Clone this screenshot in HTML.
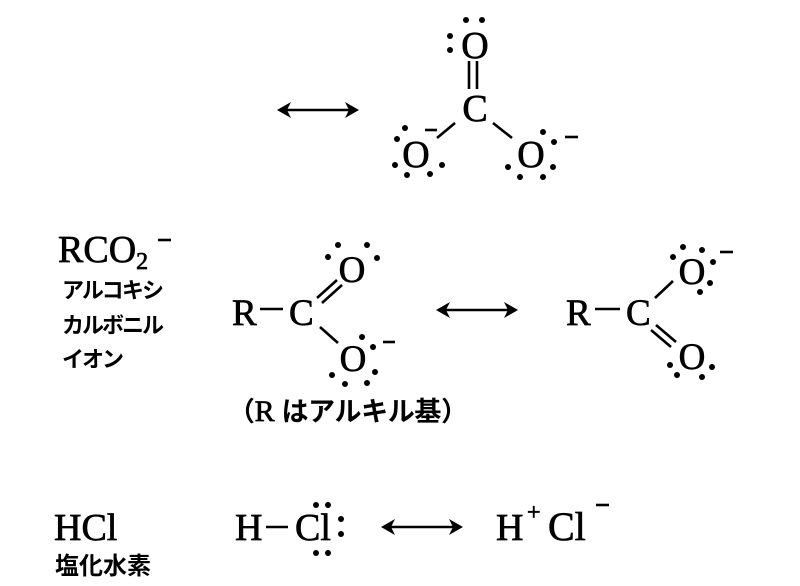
<!DOCTYPE html>
<html><head><meta charset="utf-8"><style>
html,body{margin:0;padding:0;background:#fff;}
svg{display:block}
.s{font-family:"Liberation Serif","Noto Serif CJK SC",serif;fill:#000;stroke:#000;stroke-width:0.7}
.j{font-family:"Liberation Sans","Noto Sans CJK JP",sans-serif;font-weight:bold;fill:#000}
line{stroke:#000;stroke-width:2.6}
</style></head><body>
<svg width="800" height="586" viewBox="0 0 800 586" xmlns="http://www.w3.org/2000/svg">
<defs>
<g id="arr"><line x1="6" y1="0" x2="76" y2="0" stroke-width="3"/><path d="M0 0 L14 -8 L10 0 L14 8Z M82 0 L68 -8 L72 0 L68 8Z" fill="#000"/></g>
</defs>
<!-- top carbonate -->
<use href="#arr" x="277" y="110"/>
<text class="s" x="475" y="58" font-size="38" text-anchor="middle">O</text>
<circle cx="466" cy="20" r="3"/><circle cx="482" cy="20" r="3"/>
<circle cx="450" cy="36" r="3"/><circle cx="450" cy="50" r="3"/>
<line x1="469" y1="61" x2="469" y2="89"/><line x1="477" y1="61" x2="477" y2="89"/>
<text class="s" x="475" y="121" font-size="38" text-anchor="middle">C</text>
<line x1="437" y1="138" x2="455" y2="123"/><line x1="493" y1="123" x2="512" y2="138"/>
<text class="s" x="416" y="167" font-size="38" text-anchor="middle">O</text>
<circle cx="405" cy="128" r="3"/><circle cx="397" cy="139" r="3"/><circle cx="395" cy="165" r="3"/><circle cx="407" cy="175" r="3"/><circle cx="430" cy="174" r="3"/><circle cx="442" cy="165" r="3"/>
<line x1="425" y1="130" x2="437" y2="130"/>
<text class="s" x="531" y="167" font-size="38" text-anchor="middle">O</text>
<circle cx="543" cy="132" r="3"/><circle cx="554" cy="142" r="3"/><circle cx="508" cy="167" r="3"/><circle cx="520" cy="177" r="3"/><circle cx="543" cy="177" r="3"/><circle cx="553" cy="167" r="3"/>
<line x1="565" y1="137" x2="578" y2="137"/>

<!-- RCO2- label -->
<text class="s" x="58" y="262" font-size="38">RCO<tspan font-size="24" dy="7">2</tspan></text>
<line x1="158" y1="240" x2="171" y2="240"/>
<text class="j" x="62" y="298" font-size="22" textLength="102">アルコキシ</text>
<text class="j" x="62" y="333" font-size="22" textLength="102">カルボニル</text>
<text class="j" x="62" y="367" font-size="22" textLength="62">イオン</text>

<!-- left carboxylate -->
<text class="s" x="232" y="325" font-size="37">R</text>
<line x1="260" y1="309" x2="283" y2="309"/>
<text class="s" x="289" y="325" font-size="37">C</text>
<line x1="317" y1="298" x2="337" y2="280"/><line x1="322" y1="303" x2="342" y2="285"/>
<text class="s" x="352" y="282" font-size="37" text-anchor="middle">O</text>
<circle cx="338" cy="245" r="3"/><circle cx="367" cy="245" r="3"/><circle cx="328" cy="257" r="3"/><circle cx="377" cy="258" r="3"/>
<line x1="320" y1="327" x2="338" y2="343"/>
<text class="s" x="353" y="371" font-size="37" text-anchor="middle">O</text>
<circle cx="362" cy="337" r="3"/><circle cx="373" cy="347" r="3"/><circle cx="332" cy="375" r="3"/><circle cx="345" cy="384" r="3"/><circle cx="367" cy="383" r="3"/><circle cx="375" cy="372" r="3"/>
<line x1="383" y1="342" x2="395" y2="342"/>

<use href="#arr" x="436" y="310"/>

<!-- right carboxylate -->
<text class="s" x="566" y="325" font-size="37">R</text>
<line x1="595" y1="309" x2="620" y2="309"/>
<text class="s" x="626" y="325" font-size="37">C</text>
<line x1="655" y1="298" x2="673" y2="281"/>
<text class="s" x="692" y="284" font-size="37" text-anchor="middle">O</text>
<circle cx="673" cy="257" r="3"/><circle cx="683" cy="247" r="3"/><circle cx="702" cy="250" r="3"/><circle cx="713" cy="262" r="3"/><circle cx="710" cy="283" r="3"/><circle cx="700" cy="292" r="3"/>
<line x1="720" y1="252" x2="733" y2="252"/>
<line x1="656" y1="325" x2="676" y2="342"/><line x1="651" y1="330" x2="671" y2="347"/>
<text class="s" x="692" y="369" font-size="37" text-anchor="middle">O</text>
<circle cx="670" cy="365" r="3"/><circle cx="677" cy="375" r="3"/><circle cx="702" cy="377" r="3"/><circle cx="712" cy="367" r="3"/>

<text class="j" x="228" y="421" font-size="27" font-weight="500" textLength="240">（<tspan font-family="Liberation Serif" font-weight="normal" font-size="30" stroke="#000" stroke-width="0.7">R</tspan> はアルキル基）</text>

<!-- HCl -->
<text class="s" x="54" y="540" font-size="38">HCl</text>
<text class="j" x="55" y="574" font-size="24" textLength="96">塩化水素</text>
<text class="s" x="235" y="540" font-size="38">H</text>
<line x1="266" y1="527" x2="288" y2="527"/>
<text class="s" x="295" y="540" font-size="38">Cl</text>
<circle cx="316" cy="505" r="3"/><circle cx="328" cy="505" r="3"/><circle cx="316" cy="553" r="3"/><circle cx="328" cy="553" r="3"/>
<circle cx="341" cy="519" r="3"/><circle cx="341" cy="534" r="3"/>
<use href="#arr" x="381" y="527"/>
<text class="s" x="496" y="540" font-size="38">H</text>
<text class="s" x="527" y="520" font-size="24">+</text>
<text class="s" x="548" y="540" font-size="40">Cl</text>
<line x1="596" y1="505" x2="609" y2="505"/>
</svg>
</body></html>
